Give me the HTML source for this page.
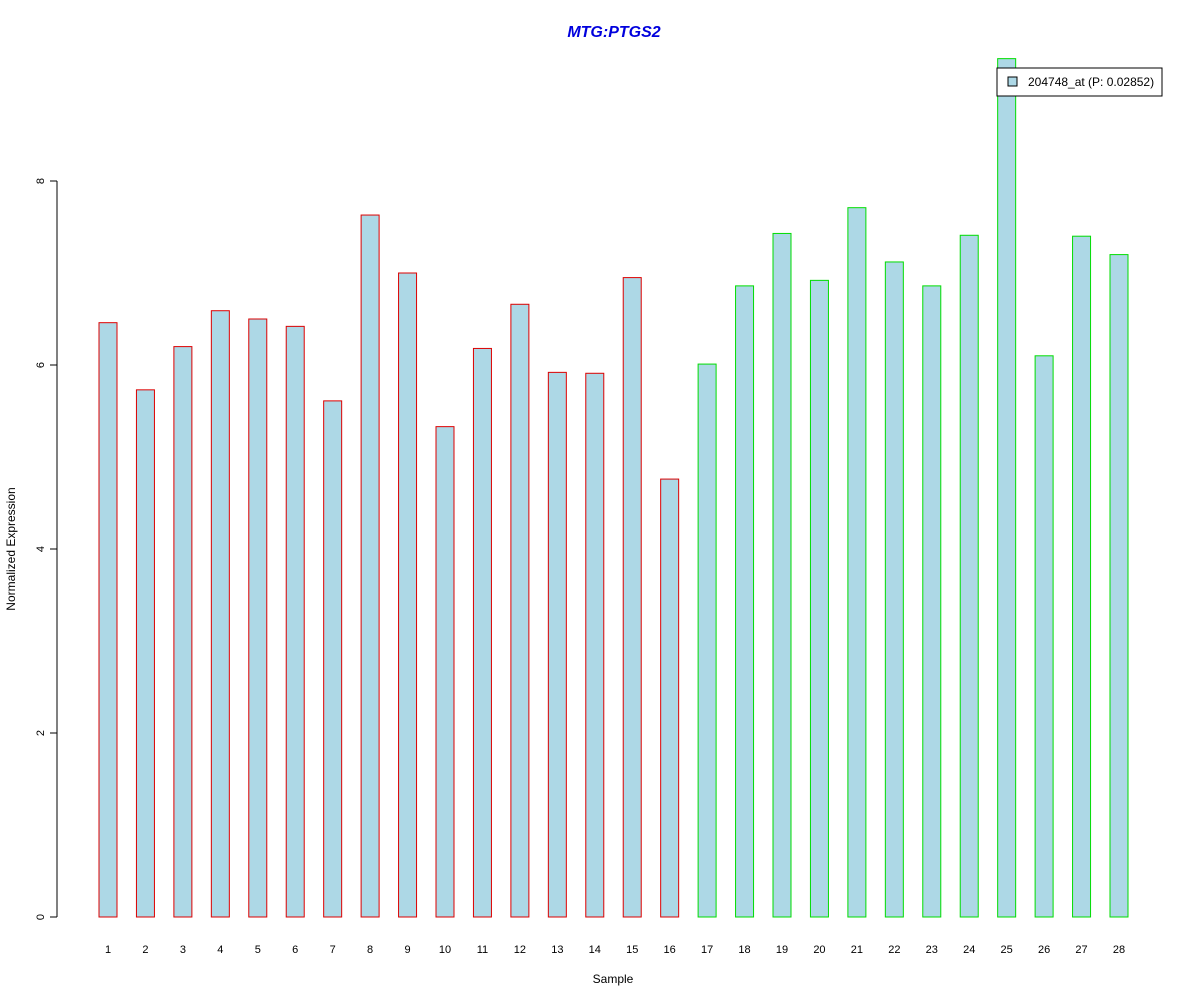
<!DOCTYPE html>
<html><head><meta charset="utf-8"><style>
body{margin:0;background:#fff;}
svg{display:block;font-family:"Liberation Sans",Arial,sans-serif;}
</style></head><body>
<svg id="chart" width="1200" height="1000">
<text x="614" y="37" text-anchor="middle" font-size="16" font-weight="bold" font-style="italic" fill="#0000dd">MTG:PTGS2</text>
<g id="yaxis"></g>
<g id="bars"></g>
<g id="xlabels"></g>
<text x="613" y="983" text-anchor="middle" font-size="12">Sample</text>
<text transform="translate(15,549) rotate(-90)" text-anchor="middle" font-size="12">Normalized Expression</text>
<g>
<rect x="997" y="68" width="165" height="28" fill="#fff" stroke="#000"/>
<rect x="1008" y="77" width="9" height="9" fill="#add8e6" stroke="#000"/>
<text x="1028" y="86" font-size="12">204748_at (P: 0.02852)</text>
</g>
</svg>
<script>
const categories = ["1","2","3","4","5","6","7","8","9","10","11","12","13","14","15","16","17","18","19","20","21","22","23","24","25","26","27","28"];
const values = [6.46,5.73,6.20,6.59,6.50,6.42,5.61,7.63,7.00,5.33,6.18,6.66,5.92,5.91,6.95,4.76,6.01,6.86,7.43,6.92,7.71,7.12,6.86,7.41,9.33,6.10,7.40,7.20];
const groups = ["a","a","a","a","a","a","a","a","a","a","a","a","a","a","a","a","b","b","b","b","b","b","b","b","b","b","b","b"];
const yTicks = [0,2,4,6,8];

const NS="http://www.w3.org/2000/svg";
const y0=917, pxPerUnit=92;
function yScale(v){return y0 - v*pxPerUnit;}
function xScale(i){return 108 + i*(1119-108)/27;}
function mk(tag,attrs,parent){const e=document.createElementNS(NS,tag);for(const k in attrs)e.setAttribute(k,attrs[k]);parent.appendChild(e);return e;}

const ya=document.getElementById('yaxis');
const ax=mk('line',{x1:57,x2:57,y1:yScale(yTicks[yTicks.length-1]),y2:yScale(yTicks[0]),stroke:'#000'},ya);


yTicks.forEach(t=>{
  const tl=mk('line',{x1:50,x2:57,y1:yScale(t),y2:yScale(t),stroke:'#000'},ya);
  
  
  const tx=mk('text',{transform:`translate(44,${yScale(t)}) rotate(-90)`,'text-anchor':'middle','font-size':11},ya);
  tx.textContent=t;
  
  
});

const bg=document.getElementById('bars'), xl=document.getElementById('xlabels');
values.forEach((v,i)=>{
  const cx=xScale(i);
  const r=mk('rect',{x:cx-9,y:yScale(v),width:18,height:y0-yScale(v),fill:'#add8e6',stroke:groups[i]==='a'?'#dd0000':'#00dd00','stroke-width':1},bg);
  
  
  const t=mk('text',{x:cx,y:953,'text-anchor':'middle','font-size':11},xl);
  t.textContent=categories[i];
  
  
});
</script>
</body></html>
